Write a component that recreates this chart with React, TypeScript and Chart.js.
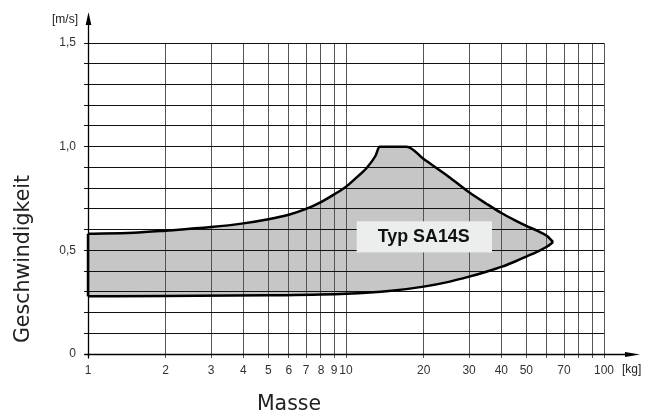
import React, { useEffect, useRef } from "react";
import { Chart, registerables } from "chart.js";

Chart.register(...registerables);

// Upper boundary of the operating region (mass in kg, speed in m/s)
const massUpper = [1, 1.5, 2, 3, 4, 5, 6, 7, 8, 9, 10, 11, 12, 13, 13.5, 17.2, 20, 25, 30, 35, 40, 45, 50, 55, 60, 63.5];
const speedUpper = [0.58, 0.585, 0.595, 0.612, 0.63, 0.65, 0.672, 0.7, 0.733, 0.77, 0.807, 0.852, 0.896, 0.955, 1.0, 1.0, 0.94, 0.855, 0.78, 0.725, 0.68, 0.646, 0.618, 0.595, 0.57, 0.54];
// Lower boundary
const massLower = [1, 2, 5, 10, 15, 20, 25, 30, 35, 40, 45, 50, 55, 60, 63.5];
const speedLower = [0.278, 0.28, 0.283, 0.29, 0.305, 0.325, 0.348, 0.373, 0.397, 0.42, 0.445, 0.47, 0.493, 0.517, 0.54];

const xTickValues = [1, 2, 3, 4, 5, 6, 7, 8, 9, 10, 20, 30, 40, 50, 60, 70, 80, 90, 100];
const xTickLabels = ["1", "2", "3", "4", "5", "6", "7", "8", "9", "10", "20", "30", "40", "50", "", "70", "", "", "100"];
const yLabelMap: Record<number, string> = { 0: "0", 5: "0,5", 10: "1,0", 15: "1,5" };

const seriesLabel = "Typ SA14S";
const xTitle = "Masse";
const yTitle = "Geschwindigkeit";
const xUnit = "[kg]";
const yUnit = "[m/s]";

export default function App() {
  const ref = useRef<HTMLCanvasElement | null>(null);

  useEffect(() => {
    const canvas = ref.current;
    if (!canvas) return;

    const upper = massUpper.map((m, i) => ({ x: m, y: speedUpper[i] }));
    const lower = massLower.map((m, i) => ({ x: m, y: speedLower[i] }));
    const leftEdge = [
      { x: massLower[0], y: speedLower[0] },
      { x: massUpper[0], y: speedUpper[0] },
    ];

    // Fill between upper and lower boundary, painted before the grid
    const regionFill = {
      id: "regionFill",
      beforeDraw(chart: any) {
        const ctx = chart.ctx;
        const mu = chart.getDatasetMeta(0);
        const ml = chart.getDatasetMeta(1);
        mu.dataset.updateControlPoints(chart.chartArea, "x");
        ml.dataset.updateControlPoints(chart.chartArea, "x");
        const up = mu.data;
        const lo = ml.data;
        ctx.save();
        ctx.beginPath();
        ctx.moveTo(up[0].x, up[0].y);
        for (let i = 1; i < up.length; i++) {
          const p = up[i - 1];
          const t = up[i];
          ctx.bezierCurveTo(p.cp2x ?? p.x, p.cp2y ?? p.y, t.cp1x ?? t.x, t.cp1y ?? t.y, t.x, t.y);
        }
        const n = lo.length - 1;
        ctx.lineTo(lo[n].x, lo[n].y);
        for (let i = n - 1; i >= 0; i--) {
          const p = lo[i + 1];
          const t = lo[i];
          ctx.bezierCurveTo(p.cp1x ?? p.x, p.cp1y ?? p.y, t.cp2x ?? t.x, t.cp2y ?? t.y, t.x, t.y);
        }
        ctx.closePath();
        ctx.fillStyle = "#c6c6c6";
        ctx.fill();
        ctx.restore();
      },
    };

    const overlay = {
      id: "overlay",
      afterDraw(chart: any) {
        const ctx = chart.ctx;
        const xs = chart.scales.x;
        const ys = chart.scales.y;

        ctx.save();
        // axes lines with arrows
        const x0 = Math.round(xs.getPixelForValue(1)) + 0.5;
        const y0 = Math.round(ys.getPixelForValue(0)) + 0.5;
        ctx.strokeStyle = "#000";
        ctx.fillStyle = "#000";
        ctx.lineWidth = 1.3;
        ctx.beginPath();
        ctx.moveTo(x0, y0 + 4);
        ctx.lineTo(x0, 22);
        ctx.stroke();
        ctx.beginPath();
        ctx.moveTo(x0 - 2.8, 25);
        ctx.lineTo(x0, 12);
        ctx.lineTo(x0 + 2.8, 25);
        ctx.closePath();
        ctx.fill();
        ctx.beginPath();
        ctx.moveTo(x0 - 4, y0);
        ctx.lineTo(628, y0);
        ctx.stroke();
        ctx.beginPath();
        ctx.moveTo(625, y0 - 2.6);
        ctx.lineTo(640, y0);
        ctx.lineTo(625, y0 + 2.6);
        ctx.closePath();
        ctx.fill();

        // units
        ctx.fillStyle = "#222";
        ctx.font = '12px "Liberation Sans", Arial, sans-serif';
        ctx.textBaseline = "middle";
        ctx.textAlign = "right";
        ctx.fillText(yUnit, 78, 20);
        ctx.textAlign = "left";
        ctx.fillText(xUnit, 622, 370);

        // axis titles
        ctx.font = '20.5px "DejaVu Sans", sans-serif';
        ctx.textAlign = "center";
        ctx.fillText(xTitle, 289, 405);
        ctx.save();
        ctx.translate(24, 259);
        ctx.rotate(-Math.PI / 2);
        ctx.fillText(yTitle, 0, 0);
        ctx.restore();

        // series label box
        const bx1 = xs.getPixelForValue(11);
        const bx2 = xs.getPixelForValue(36.8);
        const by1 = ys.getPixelForValue(0.64);
        const by2 = ys.getPixelForValue(0.49);
        ctx.fillStyle = "#eceeed";
        ctx.fillRect(bx1, by1, bx2 - bx1, by2 - by1);
        ctx.fillStyle = "#111";
        ctx.font = 'bold 19px "Liberation Sans", Arial, sans-serif';
        ctx.textAlign = "center";
        ctx.textBaseline = "middle";
        const cx = xs.getPixelForValue(20);
        const cy = ys.getPixelForValue(0.566);
        const w = ctx.measureText(seriesLabel).width;
        const sx = 92 / w;
        ctx.translate(cx, cy);
        ctx.scale(sx, 1);
        ctx.fillText(seriesLabel, 0, 0);
        ctx.restore();
      },
    };

    const lineCommon = {
      showLine: true,
      borderColor: "#000",
      borderWidth: 2.5,
      pointRadius: 0,
      fill: false,
      clip: 6,
    };

    const chart = new Chart(canvas, {
      type: "scatter",
      data: {
        datasets: [
          {
            ...lineCommon,
            label: seriesLabel,
            data: upper,
            cubicInterpolationMode: "monotone",
          } as any,
          {
            ...lineCommon,
            label: "lower",
            data: lower,
            cubicInterpolationMode: "monotone",
          } as any,
          {
            ...lineCommon,
            label: "edge",
            data: leftEdge,
            tension: 0,
          } as any,
        ],
      },
      options: {
        responsive: false,
        animation: false,
        events: [],
        layout: { padding: { left: 0, right: 47, top: 43, bottom: 0 } },
        plugins: {
          legend: { display: false },
          tooltip: { enabled: false },
        },
        scales: {
          x: {
            type: "logarithmic",
            min: 1,
            max: 100,
            border: { display: false },
            grid: { color: "#555", lineWidth: 1, tickLength: 4, drawTicks: true },
            afterBuildTicks: (axis: any) => {
              axis.ticks = xTickValues.map((v) => ({ value: v }));
            },
            afterFit: (scale: any) => {
              scale.height = 63;
            },
            ticks: {
              autoSkip: false,
              maxRotation: 0,
              padding: 5,
              color: "#333",
              font: { family: '"Liberation Sans", Arial, sans-serif', size: 12 },
              callback: (value: any) => {
                const i = xTickValues.indexOf(Number(value));
                return i >= 0 ? xTickLabels[i] : "";
              },
            },
          },
          y: {
            type: "linear",
            min: 0,
            max: 1.5,
            border: { display: false },
            grid: { color: "#111", lineWidth: 1, tickLength: 4, drawTicks: true },
            afterFit: (scale: any) => {
              scale.width = 88;
            },
            ticks: {
              stepSize: 0.1,
              padding: 8,
              color: "#333",
              font: { family: '"Liberation Sans", Arial, sans-serif', size: 12 },
              callback: (value: any) => {
                const k = Math.round(Number(value) * 10);
                return yLabelMap[k] ?? "";
              },
            },
          },
        },
      } as any,
      plugins: [regionFill, overlay],
    });

    return () => chart.destroy();
  }, []);

  return (
    <div style={{ position: "absolute", left: 0, top: 0, width: 651, height: 417 }}>
      <canvas ref={ref} width={651} height={417} style={{ display: "block" }} />
    </div>
  );
}
